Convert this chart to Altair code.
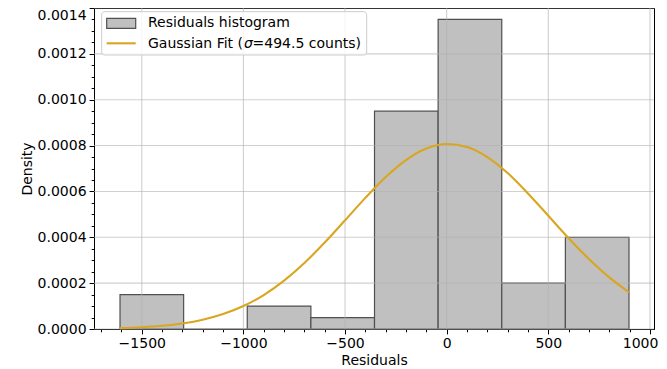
import altair as alt
import pandas as pd

# Histogram (density)
bin_left = [-1607, -1294, -981, -668, -355, -42, 271, 584]
bin_right = [-1294, -981, -668, -355, -42, 271, 584, 897]
densities = [0.00015, 0.0, 0.0001, 0.00005, 0.00095, 0.00135, 0.0002, 0.0004]

# Gaussian fit curve
fit_x = [-1607, -1500, -1400, -1300, -1200, -1100, -1000, -900, -800, -700, -600,
         -500, -400, -300, -200, -100, 0, 100, 200, 300, 400, 500, 600, 700, 800, 897]
fit_y = [3.9e-6, 7.6e-6, 1.39e-5, 2.42e-5, 4.04e-5, 6.5e-5, 1.0e-4, 1.48e-4, 2.11e-4,
         2.88e-4, 3.77e-4, 4.74e-4, 5.72e-4, 6.63e-4, 7.37e-4, 7.87e-4, 8.07e-4, 7.94e-4,
         7.5e-4, 6.8e-4, 5.91e-4, 4.94e-4, 3.96e-4, 3.05e-4, 2.25e-4, 1.6e-4]

x_major = [-1500, -1000, -500, 0, 500, 1000]
x_minor = [-1700, -1600, -1400, -1300, -1200, -1100, -900, -800, -700, -600, -400, -300,
           -200, -100, 100, 200, 300, 400, 600, 700, 800, 900]
y_major = [0.0, 0.0002, 0.0004, 0.0006, 0.0008, 0.0010, 0.0012, 0.0014]
y_minor = [0.00005, 0.0001, 0.00015, 0.00025, 0.0003, 0.00035, 0.00045, 0.0005, 0.00055,
           0.00065, 0.0007, 0.00075, 0.00085, 0.0009, 0.00095, 0.00105, 0.0011, 0.00115,
           0.00125, 0.0013, 0.00135]

legend_hist = "Residuals histogram"
legend_fit = ["Gaussian Fit (", "σ", "=494.5 counts)"]

FONT = "DejaVu Sans"
FS = 14

xs = alt.Scale(domain=[-1735, 1020], nice=False, zero=False)
ys = alt.Scale(domain=[0, 0.0014], nice=False, zero=False)

hist_df = pd.DataFrame({"x0": bin_left, "x1": bin_right, "d": densities,
                        "z": [0.0] * len(densities)})
fit_df = pd.DataFrame({"x": fit_x, "y": fit_y})

bars = alt.Chart(hist_df).mark_rect(
    color="#c0c0c0", stroke="#505050", strokeWidth=1.2
).encode(
    x=alt.X("x0:Q", scale=xs,
            axis=alt.Axis(values=x_major, format="d", title="Residuals", grid=False,
                          orient="bottom", labelFlush=False, titlePadding=3,
                          labelAlign={"condition": {"test": "datum.value >= 999",
                                                    "value": "right"},
                                      "value": "center"},
                          labelOffset={"condition": {"test": "datum.value >= 999",
                                                     "value": 8},
                                       "value": 0})),
    x2="x1:Q",
    y=alt.Y("d:Q", scale=ys,
            axis=alt.Axis(values=y_major, format=".4f", title="Density", grid=False,
                          orient="left", titlePadding=3, labelFlush=False,
                          labelBaseline={"condition": {"test": "datum.value > 0.00139",
                                                       "value": "top"},
                                         "value": "middle"})),
    y2="z:Q",
)

vgrid = alt.Chart(pd.DataFrame({"v": x_major})).mark_rule(
    color="#b0b0b0", strokeWidth=1.1, opacity=0.6
).encode(x=alt.X("v:Q", scale=xs, axis=None))

hgrid = alt.Chart(pd.DataFrame({"v": y_major})).mark_rule(
    color="#b0b0b0", strokeWidth=1.1, opacity=0.6
).encode(y=alt.Y("v:Q", scale=ys, axis=None))

line = alt.Chart(fit_df).mark_line(
    color="#DAA520", strokeWidth=2.1, interpolate="monotone"
).encode(
    x=alt.X("x:Q", scale=xs, axis=None),
    y=alt.Y("y:Q", scale=ys, axis=None),
)

xminor = alt.Chart(pd.DataFrame({"v": x_minor})).mark_tick(opacity=0).encode(
    x=alt.X("v:Q", scale=xs,
            axis=alt.Axis(values=x_minor, labels=False, grid=False, domain=False,
                          title=None, tickSize=2.8, orient="bottom"))
)
yminor = alt.Chart(pd.DataFrame({"v": y_minor})).mark_tick(opacity=0).encode(
    y=alt.Y("v:Q", scale=ys,
            axis=alt.Axis(values=y_minor, labels=False, grid=False, domain=False,
                          title=None, tickSize=2.8, orient="left"))
)

one = pd.DataFrame({"a": [0]})
leg_box = alt.Chart(one).mark_rect(
    fill="white", fillOpacity=0.8, stroke="#cccccc", strokeWidth=1, cornerRadius=3
).encode(x=alt.value(7.7), x2=alt.value(272.7), y=alt.value(3.7), y2=alt.value(47))
leg_patch = alt.Chart(one).mark_rect(
    fill="#c0c0c0", stroke="#505050", strokeWidth=1.2
).encode(x=alt.value(12.7), x2=alt.value(41.7), y=alt.value(10.3), y2=alt.value(20.3))
leg_line = alt.Chart(one).mark_rule(color="#DAA520", strokeWidth=2.1).encode(
    x=alt.value(12.7), x2=alt.value(41.7), y=alt.value(35.3))


def ltext(txt, x, y, style="normal"):
    return alt.Chart(one).mark_text(
        text=txt, font=FONT, fontSize=FS, fontStyle=style, align="left",
        baseline="middle", color="black"
    ).encode(x=alt.value(x), y=alt.value(y))


leg_t1 = ltext(legend_hist, 54, 15.3)
leg_t2a = ltext(legend_fit[0], 54, 35.5)
leg_t2b = ltext(legend_fit[1], 150, 35.5, "italic")
leg_t2c = ltext(legend_fit[2], 158.5, 35.5)

chart = alt.layer(
    bars, vgrid, hgrid, line, xminor, yminor,
    leg_box, leg_patch, leg_line, leg_t1, leg_t2a, leg_t2b, leg_t2c
).resolve_axis(x="independent", y="independent").properties(
    width=560, height=321,
    autosize=alt.AutoSizeParams(type="none"),
    padding={"left": 86, "top": 0, "right": 5, "bottom": 40},
).configure_view(
    stroke="black", strokeWidth=1
).configure_axis(
    labelFont=FONT, titleFont=FONT, labelFontSize=FS, titleFontSize=FS,
    labelColor="black", titleColor="black", tickColor="black", domainColor="black",
    tickSize=4.9, tickWidth=1, domainWidth=1, labelPadding=3, titleFontWeight="normal"
)

chart.save("out.html", embed_options={"renderer": "svg", "actions": False})
